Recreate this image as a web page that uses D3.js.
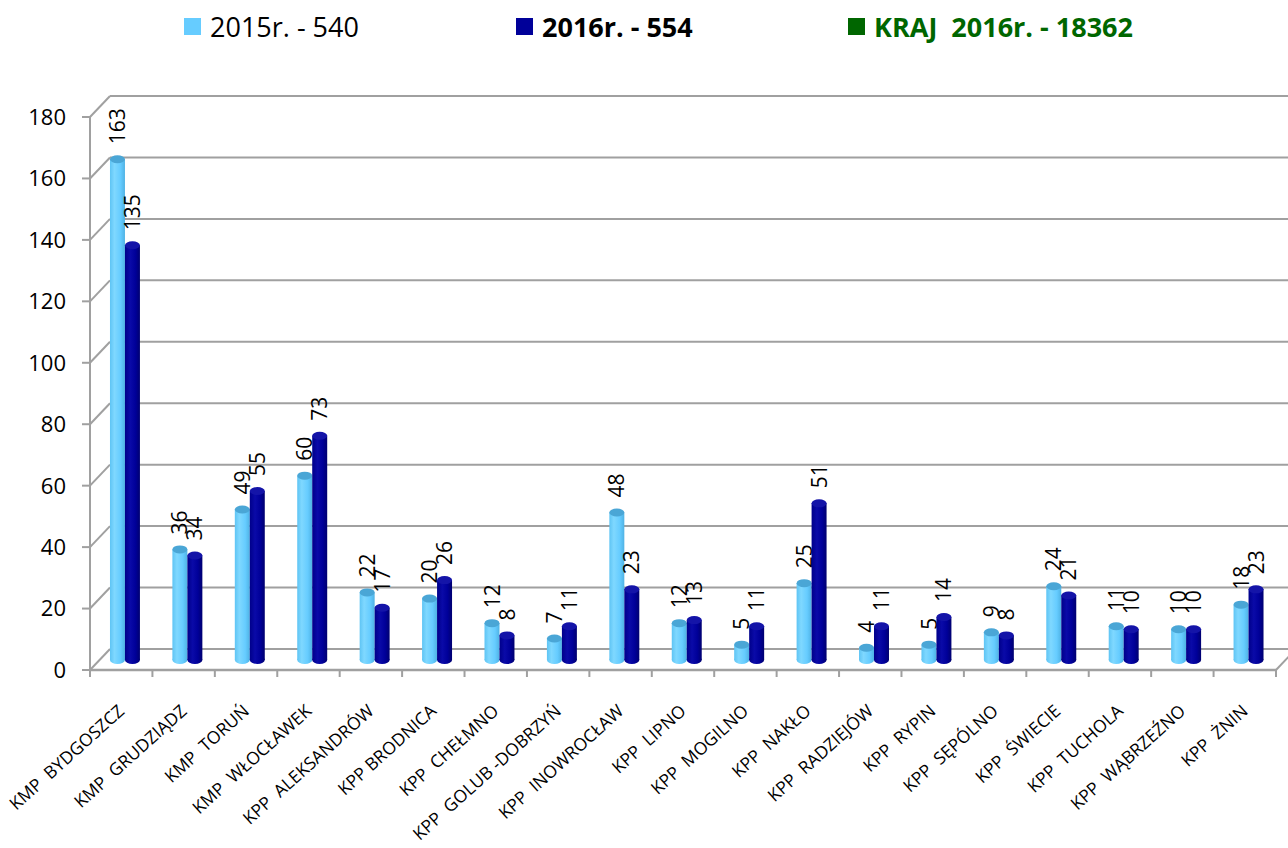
<!DOCTYPE html>
<html>
<head>
<meta charset="utf-8">
<script src="https://cdn.jsdelivr.net/npm/d3@7"></script>
<style>
  body { margin: 0; background: #fff; }
  text { font-family: "Open Sans", sans-serif; }
</style>
</head>
<body>
<div id="chart"></div>
<script>
// data
const categories = ["KMP  BYDGOSZCZ", "KMP  GRUDZIĄDZ", "KMP  TORUŃ", "KMP  WŁOCŁAWEK", "KPP  ALEKSANDRÓW",
    "KPP BRODNICA", "KPP  CHEŁMNO", "KPP  GOLUB -DOBRZYŃ", "KPP  INOWROCŁAW", "KPP  LIPNO",
    "KPP  MOGILNO", "KPP  NAKŁO", "KPP  RADZIEJÓW", "KPP  RYPIN", "KPP  SĘPÓLNO",
    "KPP  ŚWIECIE", "KPP  TUCHOLA", "KPP  WĄBRZEŹNO", "KPP  ŻNIN"];
const values2015 = [163, 36, 49, 60, 22, 20, 12, 7, 48, 12, 5, 25, 4, 5, 9, 24, 11, 10, 18];
const values2016 = [135, 34, 55, 73, 17, 26, 8, 11, 23, 13, 11, 51, 11, 14, 8, 21, 10, 10, 23];
const seriesNames = ["2015", "2016"];
const yTicks = [0, 20, 40, 60, 80, 100, 120, 140, 160, 180];
const legendItems = [
    {label: "2015r. - 540", color: "#66CCFF", text: "#000", bold: false},
    {label: "2016r. - 554", color: "#000099", text: "#000", bold: true},
    {label: "KRAJ  2016r. - 18362", color: "#006600", text: "#006600", bold: true}
];

const W = 1288, H = 848;
const svg = d3.select("#chart").append("svg")
    .attr("width", W).attr("height", H);

const defs = svg.append("defs");
function cylGrad(id, stops) {
    let g = defs.append("linearGradient").attr("id", id)
        .attr("x1", "0%").attr("x2", "100%").attr("y1", "0%").attr("y2", "0%");
    stops.forEach(s => g.append("stop").attr("offset", s[0]).attr("stop-color", s[1]));
}
cylGrad("g2015", [["0%", "#5ec4f4"], ["30%", "#7fd8ff"], ["70%", "#66ccff"], ["100%", "#4fb2e4"]]);
cylGrad("g2016", [["0%", "#00008a"], ["35%", "#0a0aa8"], ["70%", "#000099"], ["100%", "#000070"]]);
const capColor = {"2015": "#4aa6d6", "2016": "#1414a8"};

// scales
const depth = {dx: 20, dy: -21};
const x0 = d3.scaleBand().domain(categories).range([90, 1276]);
const x1 = d3.scaleBand().domain(seriesNames).range([x0.bandwidth() * 0.32, x0.bandwidth() * 0.8]);
const yFront = d3.scaleLinear().domain([0, 180]).range([670, 117]);
const yBar = d3.scaleLinear().domain([0, 180]).range([660, 107]);

const gridColor = "#a0a0a0";
const nbsp = s => s.replace(/ /g, "\u00a0");

// back wall gridlines + side wall diagonals
const grid = svg.append("g");
grid.selectAll("line.back").data(yTicks).enter().append("line")
    .attr("x1", 90 + depth.dx).attr("x2", W)
    .attr("y1", d => yFront(d) + depth.dy).attr("y2", d => yFront(d) + depth.dy)
    .attr("stroke", gridColor).attr("stroke-width", 2);
grid.selectAll("line.side").data(yTicks).enter().append("line")
    .attr("x1", 90).attr("x2", 90 + depth.dx)
    .attr("y1", d => yFront(d)).attr("y2", d => yFront(d) + depth.dy)
    .attr("stroke", gridColor).attr("stroke-width", 2);

// y axis
grid.append("line").attr("x1", 90).attr("x2", 90)
    .attr("y1", yFront(0)).attr("y2", yFront(180))
    .attr("stroke", gridColor).attr("stroke-width", 2);
grid.selectAll("line.ytick").data(yTicks).enter().append("line")
    .attr("x1", 82).attr("x2", 90)
    .attr("y1", d => yFront(d)).attr("y2", d => yFront(d))
    .attr("stroke", gridColor).attr("stroke-width", 2);
svg.append("g").selectAll("text").data(yTicks).enter().append("text")
    .attr("x", 66).attr("y", d => yFront(d)).attr("dy", "0.36em")
    .attr("text-anchor", "end").style("font-size", "22px").attr("fill", "#000")
    .text(d => d);

// floor front edge
grid.append("line").attr("x1", 90).attr("x2", 1276)
    .attr("y1", yFront(0)).attr("y2", yFront(0))
    .attr("stroke", gridColor).attr("stroke-width", 2.5);
grid.append("line").attr("x1", 1276).attr("x2", 1276 + depth.dx)
    .attr("y1", yFront(0)).attr("y2", yFront(0) + depth.dy)
    .attr("stroke", gridColor).attr("stroke-width", 2);
grid.selectAll("line.xtick").data(d3.range(categories.length + 1)).enter().append("line")
    .attr("x1", i => 90 + i * x0.step()).attr("x2", i => 90 + i * x0.step())
    .attr("y1", yFront(0)).attr("y2", yFront(0) + 7)
    .attr("stroke", gridColor).attr("stroke-width", 2);

// bars as cylinders
const rows = categories.map((c, i) => ({cat: c, vals: [
    {s: "2015", v: values2015[i]}, {s: "2016", v: values2016[i]}]}));
const bw = x1.bandwidth();
const ry = 4;

const groups = svg.append("g").selectAll("g").data(rows).enter().append("g")
    .attr("transform", d => `translate(${x0(d.cat)},0)`);

const bars = groups.selectAll("g.bar").data(d => d.vals).enter().append("g");
bars.append("ellipse")
    .attr("cx", d => x1(d.s) + bw / 2).attr("cy", yBar(0))
    .attr("rx", bw / 2).attr("ry", ry)
    .attr("fill", d => `url(#g${d.s})`);
bars.append("rect")
    .attr("x", d => x1(d.s)).attr("width", bw)
    .attr("y", d => yBar(d.v)).attr("height", d => yBar(0) - yBar(d.v))
    .attr("fill", d => `url(#g${d.s})`);
bars.append("ellipse")
    .attr("cx", d => x1(d.s) + bw / 2).attr("cy", d => yBar(d.v))
    .attr("rx", bw / 2).attr("ry", ry)
    .attr("fill", d => capColor[d.s]);

// value labels
bars.append("text")
    .attr("transform", d => `translate(${x1(d.s) + bw / 2},${yBar(d.v) - ry - 11}) rotate(-90)`)
    .attr("dy", "0.36em")
    .style("font-size", "21px").attr("fill", "#000")
    .text(d => d.v);

// category labels
svg.append("g").selectAll("text").data(categories).enter().append("text")
    .attr("transform", d => `translate(${x0(d) + x0.bandwidth() / 2},${yFront(0) + 38}) rotate(-42)`)
    .attr("text-anchor", "end").attr("dy", "0.36em")
    .style("font-size", "17.5px").attr("fill", "#000")
    .text(d => nbsp(d));

// legend
const legendX = [184, 516, 848];
const legend = svg.append("g").selectAll("g").data(legendItems).enter().append("g")
    .attr("transform", (d, i) => `translate(${legendX[i]},0)`);
legend.append("rect").attr("x", 0).attr("y", 18).attr("width", 17).attr("height", 17)
    .attr("fill", d => d.color);
legend.append("text").attr("x", 26).attr("y", 27).attr("dy", "0.36em")
    .style("font-size", "27px")
    .style("font-weight", d => d.bold ? "bold" : "normal")
    .attr("fill", d => d.text)
    .text(d => nbsp(d.label));
</script>
</body>
</html>
